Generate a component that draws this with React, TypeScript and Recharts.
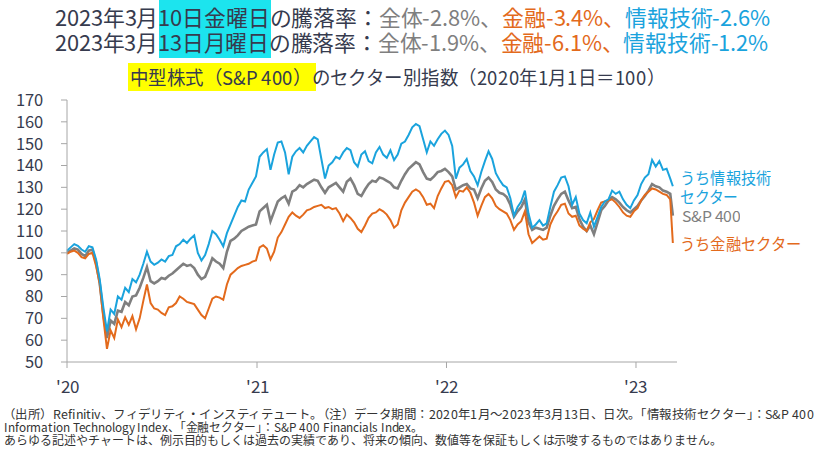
import { useLayoutEffect, useRef, useState } from 'react'
import type { ReactNode, CSSProperties } from 'react'
import { LineChart, Line, XAxis, YAxis } from 'recharts'

// 2020-01-01 = day 0, weekly closes, last point = 2023-03-13
const LAST_DAY = 1167

const yTicks = [50, 60, 70, 80, 90, 100, 110, 120, 130, 140, 150, 160, 170]
const xTicks = [0, 366, 731, 1096]
const xTickLabels = ["'20", "'21", "'22", "'23"]

// うち情報技術セクター
const techIndex = [
  101.0, 102.5, 104.0, 103.2, 101.5, 100.5, 103.0, 102.5, 97.0, 88.0,
  75.0, 64.0, 74.0, 72.0, 80.0, 78.5, 84.0, 82.0, 88.0, 86.5,
  90.0, 95.0, 100.5, 96.0, 94.5, 95.5, 97.0, 96.0, 98.5, 99.0,
  103.0, 104.0, 106.0, 104.5, 106.5, 108.0, 100.0, 96.5, 99.0, 104.0,
  110.0, 108.5, 106.0, 103.0, 109.0, 113.0, 117.0, 121.0, 124.0, 123.5,
  129.0, 132.0, 135.0, 144.0, 146.0, 147.5, 138.0, 145.0, 150.5, 151.0,
  146.0, 136.0, 144.0, 146.5, 148.0, 146.0, 149.0, 151.0, 153.0, 152.0,
  143.0, 134.0, 140.0, 141.5, 144.0, 143.0, 146.0, 148.0, 147.0, 141.5,
  139.5, 145.0, 146.5, 142.0, 141.0, 146.0, 148.5, 145.0, 143.5, 147.0,
  142.5, 145.0, 150.0, 151.0, 154.0, 157.5, 159.0, 158.0, 152.0, 146.0,
  151.0, 149.0, 152.0, 154.5, 156.0, 154.0, 149.0, 134.0, 139.0, 140.5,
  143.0, 137.5, 135.0, 131.0, 137.0, 142.0, 146.5, 143.0, 136.5, 133.5,
  131.0, 130.0, 125.0, 117.0, 121.0, 123.5, 128.5, 118.0, 111.5, 113.0,
  115.0, 112.5, 113.5, 121.0, 128.0, 131.0, 134.5, 135.0, 130.5, 122.0,
  125.5, 118.0, 115.0, 113.5, 118.5, 112.0, 116.5, 121.0, 123.5, 124.5,
  128.5, 127.0, 128.0, 124.5, 122.0, 120.5, 124.0, 126.5, 131.5, 134.5,
  136.0, 142.5, 139.5, 142.0, 138.0, 138.5, 134.0, 130.5,
]

// S&P 400
const sp400Index = [
  100.0, 101.0, 102.0, 101.5, 99.5, 98.5, 101.0, 101.5, 95.5, 86.0,
  72.0, 61.0, 69.0, 67.5, 73.5, 73.0, 77.5, 76.0, 80.0, 80.5,
  84.0, 88.5, 93.5, 87.0, 86.0, 87.0, 88.5, 88.0, 89.5, 90.5,
  92.0, 93.5, 95.0, 94.0, 94.5, 93.0, 90.0, 88.0, 89.0, 93.0,
  97.5, 96.0, 95.0, 93.0, 100.5, 105.5, 106.5, 108.0, 110.0, 111.0,
  112.0, 112.5, 113.0, 119.0, 120.5, 122.0, 114.5, 119.0, 123.5, 125.0,
  126.0, 122.5, 128.0, 129.0, 131.0, 130.0, 131.5, 132.5, 133.5, 133.0,
  130.0, 127.5, 130.0, 131.0, 132.0, 130.0, 128.0, 132.5, 134.0, 131.0,
  127.0, 126.0, 129.0, 131.5, 133.0, 132.5, 134.5, 134.0, 133.0, 132.0,
  130.0, 129.5, 133.0, 136.0, 138.5, 140.0, 141.5, 140.5, 137.0, 134.0,
  133.5, 135.0, 137.0, 137.5, 138.5, 137.0, 135.0, 129.0, 130.0, 131.0,
  131.5, 129.5, 129.0, 125.0, 129.5, 133.0, 134.5, 132.5, 129.0, 127.5,
  127.0, 125.5, 122.0, 116.5, 119.0, 121.0, 124.5, 114.0, 110.5, 111.5,
  111.0, 110.5, 111.5, 117.0, 121.5, 124.5, 127.0, 128.0, 124.0, 120.5,
  121.0, 115.5, 112.0, 110.0, 112.5, 108.5, 114.0, 119.5, 121.5, 124.0,
  125.5, 124.5, 123.0, 121.0, 119.5, 118.5, 120.0, 121.5, 124.0, 126.0,
  128.5, 131.5, 130.5, 130.0, 128.5, 128.0, 127.0, 117.0,
]

// うち金融セクター
const finIndex = [
  99.5, 100.5, 101.0, 100.0, 98.0, 97.5, 99.5, 100.0, 94.0, 86.0,
  70.0, 56.0, 64.5, 61.0, 69.5, 66.0, 70.5, 67.0, 71.0, 65.0,
  70.0, 78.0, 85.5, 77.0, 74.5, 74.0, 72.5, 71.5, 75.0, 75.5,
  77.0, 80.0, 79.0, 77.5, 77.0, 76.5, 74.0, 71.5, 70.0, 74.5,
  79.0, 80.0, 79.5, 78.5, 85.5, 90.0, 91.5, 93.0, 94.0, 94.5,
  95.0, 96.0, 96.5, 102.5, 103.5, 102.0, 97.0, 100.5, 107.0, 109.5,
  113.0, 116.5, 118.5, 117.0, 116.0, 117.5, 119.5, 120.0, 121.0, 121.5,
  122.0, 120.5, 121.0, 120.0, 120.5, 118.0, 114.5, 117.5, 116.0, 114.0,
  111.0, 109.5, 112.5, 116.0, 118.0, 118.5, 120.0, 119.0, 117.5, 115.0,
  111.5, 113.0, 119.5, 123.0, 125.5, 128.0, 129.0, 128.0, 125.5, 122.0,
  122.5, 120.5, 126.0, 129.5, 132.5, 133.0, 131.0, 125.5, 128.5, 128.0,
  130.0, 127.5, 123.0, 117.0, 121.5, 125.5, 127.0, 125.0, 121.5, 120.0,
  119.0, 118.0, 115.0, 110.5, 113.0, 114.5, 119.0, 108.5, 104.5, 106.0,
  107.5, 106.0, 106.5, 113.0, 116.5, 119.0, 122.0, 122.5, 118.0, 116.5,
  117.0, 112.5, 111.0, 110.0, 114.0, 115.5, 119.5, 123.0, 123.5, 124.0,
  124.5, 123.0, 121.0, 118.5, 117.0, 116.5, 119.0, 120.5, 124.0, 126.5,
  128.0, 129.5, 129.0, 128.0, 127.0, 126.5, 124.5, 104.5,
]

const data = techIndex.map((v, i) => ({
  day: Math.min(i * 7, LAST_DAY),
  tech: v,
  sp: sp400Index[i],
  fin: finIndex[i],
}))

const DARK = '#363B4E'
const GREY = '#7F7F7F'
const BLUE = '#1AA3DD'
const ORANGE = '#E36A1C'
const AXIS = '#A6A6A6'

// same Noto CJK face, but with a tighter line box so stacked lines don't collide
const FONT_CSS = `@font-face {
  font-family: 'JP Tight';
  src: local('Noto Sans CJK JP Regular'), local('NotoSansCJKjp-Regular'), local('Noto Sans CJK JP');
  ascent-override: 93%; descent-override: 9%; line-gap-override: 0%;
}`
const FONT = "'JP Tight', 'Noto Sans CJK JP', 'Noto Sans', sans-serif"

// one line of text, squeezed/stretched horizontally to a given width
function FitText({ x, y, w, lh, size, color = DARK, children }: {
  x: number; y: number; w: number; lh: number; size: number; color?: string; children: ReactNode
}) {
  const ref = useRef<HTMLSpanElement>(null)
  const [sx, setSx] = useState(1)
  useLayoutEffect(() => {
    const measure = () => { if (ref.current) setSx(w / ref.current.offsetWidth) }
    measure()
    document.fonts?.ready.then(measure)
  }, [w])
  const style: CSSProperties = {
    position: 'absolute', left: x, top: y, height: lh, lineHeight: `${lh}px`,
    fontSize: size, color, whiteSpace: 'nowrap', display: 'inline-block',
    transform: `scaleX(${sx})`, transformOrigin: 'left center',
  }
  return <span ref={ref} style={style}>{children}</span>
}

export default function App() {
  return (
    <div style={{ position: 'absolute', left: 0, top: 0, width: 825, height: 464, background: '#fff', fontFamily: FONT, overflow: 'hidden' }}>
      <style>{FONT_CSS}</style>
      <div style={{ position: 'absolute', left: 159, top: 0, width: 112, height: 58, background: '#1CE4EE' }} />
      <div style={{ position: 'absolute', left: 128, top: 63, width: 188, height: 28, background: '#FFFF00' }} />

      <div style={{ position: 'absolute', left: 0, top: 0 }}>
        <LineChart width={825} height={464} data={data} margin={{ top: 100, right: 148, bottom: 72, left: 0 }}>
          <XAxis
            dataKey="day"
            type="number"
            domain={[0, 1175]}
            ticks={xTicks}
            tickFormatter={(v: number) => xTickLabels[xTicks.indexOf(v)]}
            height={30}
            tickSize={6}
            tickMargin={13}
            axisLine={{ stroke: AXIS }}
            tickLine={{ stroke: AXIS }}
            tick={{ fill: DARK, fontSize: 17, fontFamily: FONT }}
          />
          <YAxis
            domain={[50, 170]}
            ticks={yTicks}
            width={67}
            tickSize={6}
            tickMargin={18}
            axisLine={{ stroke: AXIS }}
            tickLine={{ stroke: AXIS }}
            tick={{ fill: DARK, fontSize: 16.5, fontFamily: FONT }}
            interval={0}
          />
          <Line type="linear" dataKey="sp" stroke={GREY} strokeWidth={2.6} dot={false} isAnimationActive={false} />
          <Line type="linear" dataKey="fin" stroke={ORANGE} strokeWidth={2} dot={false} isAnimationActive={false} />
          <Line type="linear" dataKey="tech" stroke={BLUE} strokeWidth={2} dot={false} isAnimationActive={false} />
        </LineChart>
      </div>

      <FitText x={55} y={5} w={715} lh={25} size={22}>
        2023年3月10日金曜日の騰落率：<span style={{ color: GREY }}>全体-2.8%、</span>
        <span style={{ color: ORANGE }}>金融-3.4%、</span>
        <span style={{ color: BLUE }}>情報技術-2.6%</span>
      </FitText>
      <FitText x={55} y={30} w={713} lh={25} size={22}>
        2023年3月13日月曜日の騰落率：<span style={{ color: GREY }}>全体-1.9%、</span>
        <span style={{ color: ORANGE }}>金融-6.1%、</span>
        <span style={{ color: BLUE }}>情報技術-1.2%</span>
      </FitText>
      <FitText x={130} y={64} w={535} lh={26} size={19}>
        中型株式（S&amp;P 400）のセクター別指数（2020年1月1日＝100）
      </FitText>

      <FitText x={680} y={168} w={91} lh={18} size={16} color={BLUE}>うち情報技術</FitText>
      <FitText x={680} y={187} w={58} lh={18} size={16} color={BLUE}>セクター</FitText>
      <FitText x={682} y={207} w={58} lh={18} size={15} color={GREY}>S&amp;P 400</FitText>
      <FitText x={680} y={234} w={121} lh={18} size={16} color={ORANGE}>うち金融セクター</FitText>

      <FitText x={3} y={408} w={811} lh={13} size={12} color="#333">
        （出所）Refinitiv、フィデリティ・インスティテュート。（注）データ期間：2020年1月～2023年3月13日、日次。「情報技術セクター」：S&amp;P 400
      </FitText>
      <FitText x={4} y={421} w={419} lh={13} size={12} color="#333">
        Information Technology Index、「金融セクター」：S&amp;P 400 Financials Index。
      </FitText>
      <FitText x={4} y={434} w={718} lh={13} size={12} color="#333">
        あらゆる記述やチャートは、例示目的もしくは過去の実績であり、将来の傾向、数値等を保証もしくは示唆するものではありません。
      </FitText>
    </div>
  )
}
